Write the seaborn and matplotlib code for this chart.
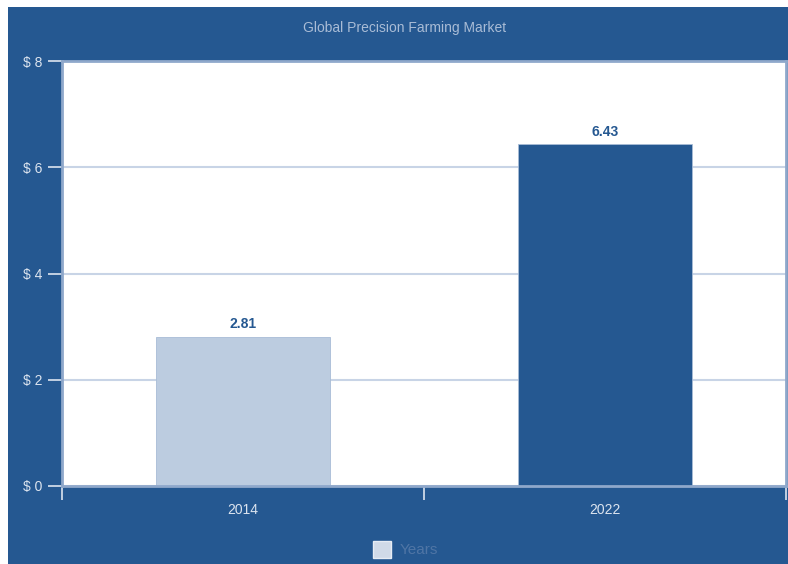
import matplotlib
matplotlib.use("Agg")
import matplotlib.pyplot as plt
import seaborn as sns
import pandas as pd
from matplotlib.patches import Rectangle
from matplotlib.ticker import FixedLocator

years = ["2014", "2022"]
values = [2.81, 6.43]
y_ticks = [0, 2, 4, 6, 8]
y_tick_labels = ["$ 0", "$ 2", "$ 4", "$ 6", "$ 8"]
title = "Global Precision Farming Market"
legend_label = "Years"

BG = "#255891"
LIGHT = "#BCCCE0"
sns.set_theme(style="white")
plt.rcParams['font.family'] = ['Liberation Sans', 'DejaVu Sans']

W, H = 788, 564
fig = plt.figure(figsize=(W / 100, H / 100), dpi=100)
fig.patch.set_facecolor("white")
fig.patches.append(Rectangle((8 / W, 0), 1 - 8 / W, 1 - 7 / H, transform=fig.transFigure,
                             facecolor=BG, edgecolor="none", zorder=-10))

left, right, top, bottom = 62, 786, 61, 486
ax = fig.add_axes([left / W, 1 - bottom / H, (right - left) / W, (bottom - top) / H])
ax.set_facecolor("white")

df = pd.DataFrame({"year": years, "value": values})
sns.barplot(data=df, x="year", y="value", hue="year", palette=[LIGHT, BG],
            width=0.48, ax=ax, legend=False, saturation=1, edgecolor="#A8BCD6", linewidth=0.6)

ax.set_xlim(-0.5, 1.5)
ax.set_ylim(0, 8)
ax.set_xlabel("")
ax.set_ylabel("")
ax.set_yticks(y_ticks)
ax.set_yticklabels(y_tick_labels)
ax.yaxis.grid(True, color="#C8D4E6", linewidth=1.5)
ax.set_axisbelow(True)

for s in ax.spines.values():
    s.set_color("#8FA8CB")
    s.set_linewidth(2)

ax.tick_params(axis="y", colors="#DCE4EF", labelcolor="#DCE4EF", length=10, width=1.2,
               labelsize=10, pad=4, left=True)
ax.tick_params(axis="x", which="major", length=0, labelcolor="#DCE4EF", labelsize=10, pad=12)
ax.xaxis.set_minor_locator(FixedLocator([-0.5, 0.5, 1.5]))
ax.tick_params(axis="x", which="minor", length=10, width=1.2, color="#DCE4EF", bottom=True)

for i, v in enumerate(values):
    ax.text(i, v + 0.1, f"{v:.2f}", ha="center", va="bottom", color=BG,
            fontsize=10, fontweight="bold")

fig.text(405 / W, 1 - 28 / H, title, ha="center", va="center", color="#A9BCD6", fontsize=10)

fig.patches.append(Rectangle((373 / W, 1 - 558 / H), 18 / W, 17 / H, transform=fig.transFigure,
                             facecolor="#D0DAE8", edgecolor="#E6ECF4", zorder=2))
fig.text(400 / W, 1 - 550 / H, legend_label, ha="left", va="center", color="#4F75A5", fontsize=11)

fig.savefig("out.png", dpi=100)
